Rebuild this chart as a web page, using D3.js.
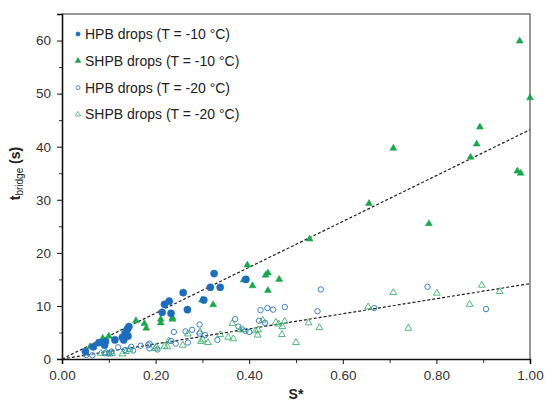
<!DOCTYPE html>
<html>
<head>
<meta charset="utf-8">
<script src="https://cdn.jsdelivr.net/npm/d3@7"></script>
<style>
  body { margin:0; background:#fff; }
  svg text { font-family: "Liberation Sans", Arial, sans-serif; }
</style>
</head>
<body>
<div id="chart"></div>
<script>
// data: [S*, t_bridge]
var hpb10 = [[0.05,1.4],[0.067,2.3],[0.079,3.1],[0.091,2.6],[0.093,3.3],[0.113,3.6],[0.129,4.1],[0.132,3.6],
  [0.135,4.8],[0.141,4.3],[0.143,6.1],[0.14,5.6],[0.214,8.8],[0.219,10.3],[0.229,10.9],[0.233,8.6],
  [0.259,12.5],[0.268,9.3],[0.303,11.1],[0.317,13.5],[0.325,16.1],[0.338,13.5],[0.393,15.0]];
var shpb10 = [[0.06,2.3],[0.087,3.9],[0.10,4.3],[0.135,5.5],[0.139,5.1],[0.158,7.2],[0.176,6.7],[0.18,5.8],
  [0.211,7.5],[0.211,6.8],[0.236,7.8],[0.236,7.5],[0.299,11.1],[0.323,10.2],[0.388,14.9],[0.396,17.7],
  [0.407,13.8],[0.435,15.8],[0.44,16.2],[0.44,12.9],[0.464,15.0],[0.529,22.6],[0.656,29.3],[0.708,39.7],
  [0.784,25.5],[0.873,38.0],[0.886,40.5],[0.893,43.7],[0.973,35.4],[0.98,35.0],[0.978,59.9],[1.0,49.2]];
var hpb20 = [[0.052,0.75],[0.065,0.7],[0.091,1.07],[0.10,1.07],[0.106,1.4],[0.12,2.2],[0.135,1.7],[0.148,2.3],
  [0.152,1.6],[0.168,2.5],[0.184,2.6],[0.187,2.9],[0.187,2.0],[0.204,1.8],[0.233,3.4],[0.239,5.1],[0.243,2.9],
  [0.264,5.2],[0.269,3.1],[0.278,5.5],[0.294,6.5],[0.294,4.8],[0.306,4.5],[0.332,3.6],[0.37,7.5],[0.377,6.1],
  [0.392,5.3],[0.40,5.1],[0.421,7.2],[0.424,9.2],[0.434,6.8],[0.439,9.6],[0.451,9.3],[0.476,9.8],[0.546,9.0],
  [0.553,13.1],[0.667,9.6],[0.781,13.6],[0.906,9.4]];
var shpb20 = [[0.083,1.07],[0.094,1.2],[0.102,0.94],[0.107,1.07],[0.129,0.94],[0.137,1.4],[0.144,1.8],
  [0.199,2.0],[0.202,2.3],[0.219,2.4],[0.225,2.3],[0.228,3.4],[0.258,2.6],[0.269,4.7],[0.295,5.1],[0.297,3.3],
  [0.301,3.6],[0.312,3.1],[0.338,4.6],[0.355,4.1],[0.364,6.7],[0.366,3.8],[0.381,5.5],[0.387,5.5],[0.414,5.3],
  [0.418,4.5],[0.419,5.5],[0.429,7.3],[0.457,6.9],[0.463,6.6],[0.47,4.6],[0.471,6.1],[0.476,7.1],[0.50,3.1],
  [0.527,6.8],[0.55,5.9],[0.654,9.8],[0.708,12.5],[0.74,5.8],[0.801,12.4],[0.871,10.3],[0.897,13.9],[0.935,12.7]];
// trend lines (slope through origin)
var trendSlopes = [43.2, 14.2];
var legendLabels = ["HPB drops (T = -10 \u00b0C)", "SHPB drops (T = -10 \u00b0C)",
                    "HPB drops (T = -20 \u00b0C)", "SHPB drops (T = -20 \u00b0C)"];

var blue = "#1c6cc0", green = "#17a84c";
var margin = {top:14, left:62, right:15, bottom:42},
    width = 545 - margin.left - margin.right,
    height = 401 - margin.top - margin.bottom;

var svg = d3.select("#chart").append("svg")
    .attr("width", 545).attr("height", 401)
  .append("g")
    .attr("transform", "translate(" + margin.left + "," + margin.top + ")");

var x = d3.scaleLinear().domain([0, 1]).range([0, width]);
var y = d3.scaleLinear().domain([0, 65]).range([height, 0]);

// minor ticks first
svg.append("g").attr("transform", "translate(0," + height + ")")
  .call(d3.axisBottom(x).tickValues(d3.range(0.1, 1, 0.2)).tickSize(4).tickFormat(""))
  .call(function(g){ g.select(".domain").remove(); g.selectAll("line").attr("stroke","#333"); });
svg.append("g")
  .call(d3.axisLeft(y).tickValues(d3.range(5, 66, 10)).tickSize(3).tickFormat(""))
  .call(function(g){ g.select(".domain").remove(); g.selectAll("line").attr("stroke","#333"); });

// frame (top & right in grey)
svg.append("path")
  .attr("d", "M0,0H" + width + "V" + height)
  .attr("fill", "none").attr("stroke", "#777").attr("stroke-width", 1.5);

var xAxis = svg.append("g").attr("transform", "translate(0," + height + ")")
  .call(d3.axisBottom(x).tickValues(d3.range(0, 1.01, 0.2)).tickSize(5).tickPadding(6).tickFormat(d3.format(".2f")));
var yAxis = svg.append("g")
  .call(d3.axisLeft(y).tickValues(d3.range(0, 61, 10)).tickSize(5).tickPadding(6));
[xAxis, yAxis].forEach(function(a){
  a.select(".domain").attr("stroke", "#111").attr("stroke-width", 1.6);
  a.selectAll("line").attr("stroke", "#111");
  a.selectAll("text").attr("font-size", 13.5).attr("fill", "#333");
});

// trend lines
svg.selectAll(".trend").data(trendSlopes).enter().append("line")
  .attr("x1", x(0)).attr("y1", y(0))
  .attr("x2", x(1)).attr("y2", function(d){ return y(d); })
  .attr("stroke", "#222").attr("stroke-width", 1.2).attr("stroke-dasharray", "3,2");

var tri = d3.symbol().type(d3.symbolTriangle);

function circles(data, r, filled, color) {
  svg.append("g").selectAll("circle").data(data).enter().append("circle")
    .attr("cx", function(d){ return x(d[0]); })
    .attr("cy", function(d){ return y(d[1]); })
    .attr("r", r)
    .attr("fill", filled ? color : "none")
    .attr("stroke", color).attr("stroke-width", filled ? 0.5 : 1);
}
function triangles(data, size, filled, color) {
  svg.append("g").selectAll("path").data(data).enter().append("path")
    .attr("d", tri.size(size)())
    .attr("transform", function(d){ return "translate(" + x(d[0]) + "," + y(d[1]) + ")"; })
    .attr("fill", filled ? color : "none")
    .attr("stroke", color).attr("stroke-width", filled ? 0.5 : 0.9);
}
triangles(shpb20, 20, false, "#3db26a");
circles(hpb20, 2.7, false, "#3b82cc");
triangles(shpb10, 21, true, green);
circles(hpb10, 3.6, true, blue);

// legend
var legend = svg.append("g").attr("transform", "translate(16,20)");
legendLabels.forEach(function(t, i) {
  var g = legend.append("g").attr("transform", "translate(0," + (i * 26.8) + ")");
  if (i % 2 == 0) {
    g.append("circle").attr("r", 2).attr("fill", i == 0 ? blue : "none")
      .attr("stroke", i == 0 ? blue : "#3b82cc").attr("stroke-width", 0.9);
  } else {
    g.append("path").attr("d", tri.size(12)()).attr("fill", i == 1 ? green : "none")
      .attr("stroke", i == 1 ? green : "#3db26a").attr("stroke-width", 0.8);
  }
  g.append("text").attr("x", 7).attr("dy", "0.35em").attr("font-size", 14)
    .attr("fill", "#222").text(t);
});

// axis titles
svg.append("text").attr("x", width / 2).attr("y", height + 40)
  .attr("text-anchor", "middle").attr("font-size", 14).attr("font-weight", "bold")
  .attr("fill", "#222").text("S*");

var yl = svg.append("text").attr("transform", "translate(-42," + (height / 2 - 13) + ") rotate(-90)")
  .attr("text-anchor", "middle").attr("font-size", 14).attr("font-weight", "bold").attr("fill", "#222");
yl.append("tspan").text("t");
yl.append("tspan").attr("font-size", 10).attr("font-weight", "normal").attr("dy", 3).text("bridge");
yl.append("tspan").attr("dy", -3).text(" (s)");
</script>
</body>
</html>
